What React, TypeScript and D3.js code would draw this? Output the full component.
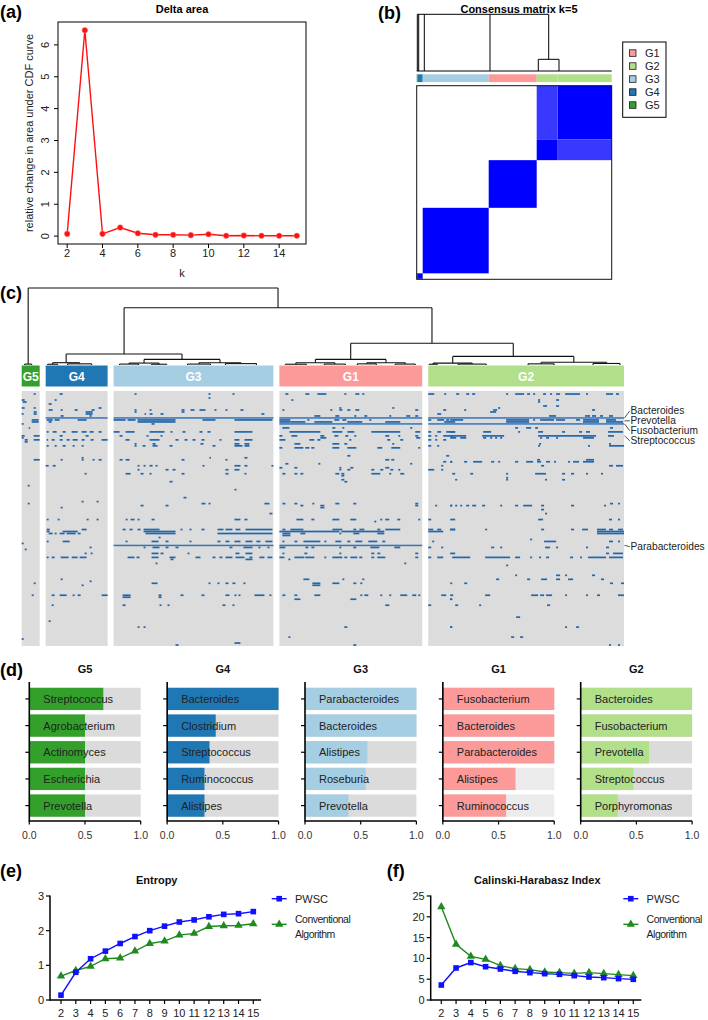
import React from "react";
import * as d3 from "d3";

const FONT = "Liberation Sans, Arial, Helvetica, sans-serif";

// ---------- (a) Delta area ----------
const deltaK = [2, 3, 4, 5, 6, 7, 8, 9, 10, 11, 12, 13, 14, 15];
const deltaArea = [0.07, 6.46, 0.07, 0.27, 0.09, 0.04, 0.04, 0.03, 0.06, 0.01, 0.02, 0.01, 0.01, 0.01];

// ---------- shared groups ----------
const groupNames = ["G1", "G2", "G3", "G4", "G5"];
const groupColors: Record<string, string> = {
  G1: "#fb9a99",
  G2: "#b2df8a",
  G3: "#a6cee3",
  G4: "#1f78b4",
  G5: "#33a02c",
};

// ---------- (b) consensus matrix ----------
const consClusters = ["G5", "G4", "G3", "G1", "G2a", "G2b"];
const consSizes = [1, 5, 66, 48, 21, 54];
const consGroupOf = ["G5", "G4", "G3", "G1", "G2", "G2"];
const consPairs: [string, string, number][] = [
  ["G5", "G5", 1],
  ["G4", "G4", 1],
  ["G5", "G4", 1],
  ["G3", "G3", 1],
  ["G1", "G1", 1],
  ["G2a", "G2a", 1],
  ["G2b", "G2b", 1],
  ["G2a", "G2b", 0.78],
];
const bTopBranches = [0.6, 2, 7.6, 73.3, 132];
const bTopBranchLow = [0, 0, 0, 0, 0.206];
const bSubBranches = [121.6, 142.3];

// ---------- (c) heatmap ----------
const cGroups = ["G5", "G4", "G3", "G1", "G2"];
const cGroupSizes = [18, 62, 160, 143, 196];
const cRows = 128;

type Leaf = { g: string; c: number };
type TNode = { h: number; ch: (TNode | Leaf)[] };
const L = (g: string, c: number): Leaf => ({ g, c });
const N = (h: number, ...ch: (TNode | Leaf)[]): TNode => ({ h, ch });

const cTree: TNode = N(
  1.0,
  N(0.012, L("G5", 3), L("G5", 10)),
  N(
    0.744,
    N(
      0.143,
      N(0.03, N(0.01, L("G4", 2), L("G4", 12)), N(0.015, L("G4", 22), L("G4", 46))),
      N(
        0.073,
        N(0.025, N(0.012, L("G3", 6), L("G3", 25)), N(0.01, L("G3", 38), L("G3", 53))),
        N(0.03, N(0.012, L("G3", 74), L("G3", 97)), N(0.018, L("G3", 112), L("G3", 143)))
      )
    ),
    N(
      0.282,
      N(
        0.073,
        N(0.03, N(0.01, L("G1", 6), L("G1", 27)), N(0.012, L("G1", 45), L("G1", 66))),
        N(0.03, N(0.015, L("G1", 78), L("G1", 97)), N(0.012, L("G1", 116), L("G1", 136)))
      ),
      N(
        0.112,
        N(0.025, N(0.01, L("G2", 1), L("G2", 9)), N(0.012, L("G2", 30), L("G2", 58))),
        N(0.035, N(0.015, L("G2", 100), L("G2", 126)), N(0.02, L("G2", 165), L("G2", 192)))
      )
    )
  )
);

const fullLineRows: Record<string, number[]> = {
  G5: [],
  G4: [13],
  G3: [13, 77],
  G1: [13, 16, 77],
  G2: [13, 16],
};

type Dash = [number, number, number];
const g5Dashes: Dash[] = [
  [1, 12, 14], [4, 0, 3], [5, 1, 5], [8, 0, 3], [8, 12, 14], [10, 12, 15], [11, 0, 2], [11, 12, 15],
  [14, 10, 17], [15, 10, 17], [16, 0, 2], [18, 7, 8], [22, 0, 3], [22, 12, 18], [23, 0, 2], [24, 3, 6],
  [25, 3, 6], [24, 12, 18], [34, 12, 18], [47, 6, 8], [56, 6, 8], [76, 0, 2], [79, 3, 5], [96, 12, 14],
  [102, 10, 12], [124, 0, 2],
];
const g4Dashes: Dash[] = [
  [1, 14, 17], [4, 9, 11], [6, 3, 6], [9, 3, 7], [9, 15, 17], [9, 29, 32], [9, 46, 49], [8, 53, 56],
  [10, 40, 47], [11, 40, 47], [12, 15, 18], [12, 44, 46], [14, 1, 7], [14, 9, 14], [14, 32, 41], [15, 3, 6],
  [20, 1, 3], [20, 7, 11], [20, 17, 20], [20, 26, 32], [20, 36, 41], [20, 44, 48], [20, 53, 56], [22, 14, 17],
  [22, 40, 43], [24, 1, 2], [24, 6, 9], [24, 14, 17], [24, 21, 24], [24, 27, 32], [24, 36, 39], [24, 45, 48],
  [24, 56, 62], [27, 1, 3], [27, 9, 11], [27, 17, 20], [27, 27, 29], [27, 36, 38], [33, 36, 38], [34, 15, 17],
  [34, 36, 38], [34, 47, 49], [34, 53, 56], [37, 0, 3], [37, 7, 10], [41, 39, 41], [55, 36, 38], [55, 51, 53],
  [58, 15, 17], [64, 1, 3], [64, 12, 14], [64, 41, 43], [64, 51, 53], [69, 1, 4], [70, 1, 4], [70, 17, 32],
  [69, 36, 41], [71, 3, 7], [71, 9, 11], [71, 14, 19], [71, 21, 30], [71, 32, 35], [75, 1, 3], [75, 17, 24],
  [78, 44, 46], [81, 39, 41], [81, 45, 47], [83, 1, 3], [83, 6, 9], [83, 15, 23], [83, 26, 32], [83, 34, 41],
  [94, 15, 17], [95, 44, 46], [97, 36, 38], [102, 6, 9], [102, 14, 21], [102, 27, 29], [102, 32, 35],
  [102, 56, 62], [107, 6, 8], [115, 3, 5],
];
const g3Dashes: Dash[] = [
  [1, 21, 23], [1, 95, 97], [1, 119, 121], [3, 95, 97], [9, 21, 23], [10, 21, 23], [9, 36, 38], [9, 68, 71],
  [10, 68, 71], [9, 77, 81], [9, 86, 92], [9, 101, 103], [9, 112, 114], [9, 127, 130], [11, 31, 32], [11, 36, 39],
  [11, 47, 50], [11, 148, 151], [14, 0, 12], [14, 14, 22], [14, 24, 62], [15, 24, 62], [14, 89, 102],
  [14, 121, 159], [16, 38, 41], [20, 0, 6], [20, 12, 21], [20, 36, 51], [20, 57, 59], [20, 69, 72], [20, 86, 89],
  [20, 94, 97], [20, 121, 139], [22, 6, 9], [22, 33, 35], [22, 47, 49], [24, 12, 16], [24, 36, 46], [24, 62, 65],
  [24, 71, 74], [24, 79, 82], [24, 88, 91], [24, 106, 108], [24, 121, 126], [24, 131, 139], [26, 21, 23],
  [26, 39, 42], [26, 87, 90], [26, 121, 126], [26, 131, 136], [27, 21, 23], [27, 29, 32], [27, 39, 44],
  [27, 56, 59], [27, 99, 102], [27, 121, 129], [27, 131, 136], [33, 96, 97], [33, 131, 134], [34, 6, 9],
  [34, 12, 16], [34, 68, 71], [34, 112, 114], [37, 24, 26], [37, 30, 32], [37, 36, 39], [37, 42, 44],
  [37, 89, 91], [37, 121, 127], [37, 131, 134], [37, 158, 160], [39, 24, 26], [39, 52, 55], [39, 59, 62],
  [39, 112, 115], [39, 121, 126], [41, 12, 17], [41, 27, 30], [41, 36, 38], [41, 68, 71], [41, 112, 115],
  [41, 131, 133], [45, 56, 59], [49, 121, 123], [53, 70, 73], [56, 88, 92], [56, 95, 97], [56, 151, 156],
  [57, 27, 30], [57, 52, 55], [61, 156, 159], [64, 12, 14], [64, 17, 21], [64, 24, 26], [64, 38, 41],
  [64, 121, 127], [64, 131, 134], [69, 9, 12], [69, 16, 19], [69, 24, 27], [69, 30, 46], [70, 30, 62],
  [69, 67, 69], [69, 76, 78], [69, 88, 91], [69, 104, 110], [69, 112, 119], [69, 122, 127], [69, 132, 159],
  [71, 32, 62], [71, 104, 159], [73, 45, 47], [75, 12, 14], [75, 38, 45], [75, 52, 55], [75, 76, 78],
  [75, 104, 107], [75, 112, 116], [75, 121, 127], [75, 132, 139], [75, 143, 147], [75, 152, 159], [78, 30, 32],
  [78, 39, 46], [78, 52, 55], [78, 62, 65], [78, 116, 119], [78, 130, 139], [78, 145, 147], [78, 154, 156],
  [81, 38, 45], [81, 47, 50], [81, 74, 76], [81, 122, 126], [81, 132, 139], [83, 14, 21], [83, 23, 26],
  [83, 38, 45], [83, 56, 62], [83, 82, 87], [83, 99, 102], [83, 106, 109], [83, 112, 119], [83, 122, 131],
  [83, 136, 139], [83, 146, 151], [83, 154, 159], [84, 57, 60], [84, 132, 139], [86, 42, 44], [96, 38, 44],
  [96, 95, 97], [96, 104, 106], [96, 112, 115], [96, 119, 122], [96, 130, 132], [102, 9, 17], [103, 9, 17],
  [102, 45, 48], [103, 45, 48], [102, 67, 70], [102, 88, 91], [102, 112, 116], [102, 121, 123], [102, 125, 127],
  [102, 141, 151], [102, 156, 158], [107, 9, 12], [107, 46, 48], [107, 54, 56], [107, 109, 112],
  [107, 119, 121], [118, 24, 26], [118, 30, 32], [126, 121, 127], [127, 62, 65],
];
const g1Dashes: Dash[] = [
  [1, 6, 9], [1, 26, 30], [1, 38, 47], [1, 65, 67], [1, 76, 80], [1, 83, 85], [4, 12, 14], [9, 3, 5],
  [9, 51, 53], [9, 60, 63], [9, 68, 71], [9, 76, 80], [8, 113, 115], [9, 136, 139], [8, 60, 62], [12, 35, 41],
  [12, 56, 60], [12, 75, 77], [12, 85, 88], [12, 110, 112], [12, 127, 131], [12, 136, 139], [14, 0, 11],
  [15, 0, 11], [15, 11, 26], [14, 28, 30], [15, 35, 53], [14, 55, 60], [14, 63, 67], [15, 68, 83], [14, 90, 92],
  [15, 106, 121], [18, 3, 10], [18, 53, 56], [18, 63, 65], [18, 131, 133], [20, 10, 41], [20, 53, 63],
  [20, 68, 75], [20, 92, 121], [20, 136, 141], [22, 0, 3], [22, 12, 18], [22, 41, 45], [22, 55, 59],
  [22, 66, 69], [22, 75, 77], [22, 106, 110], [22, 119, 121], [22, 136, 139], [23, 41, 47], [23, 137, 141],
  [24, 0, 6], [24, 30, 35], [24, 38, 41], [24, 70, 72], [24, 108, 111], [24, 121, 124], [26, 15, 21],
  [26, 53, 60], [26, 65, 68], [26, 113, 115], [28, 0, 3], [28, 15, 24], [28, 26, 30], [28, 32, 35],
  [28, 53, 60], [28, 68, 77], [28, 98, 103], [28, 112, 121], [28, 139, 141], [32, 68, 71], [34, 106, 110],
  [34, 112, 115], [36, 6, 9], [36, 39, 41], [36, 131, 133], [38, 0, 3], [38, 15, 18], [38, 60, 62],
  [38, 71, 74], [38, 106, 110], [39, 60, 62], [39, 68, 71], [39, 92, 95], [39, 101, 104], [39, 111, 114],
  [39, 119, 121], [41, 3, 6], [41, 15, 18], [41, 21, 24], [41, 56, 60], [41, 62, 65], [41, 92, 101],
  [41, 110, 112], [41, 121, 125], [42, 62, 65], [44, 62, 65], [45, 65, 68], [56, 3, 6], [56, 15, 18],
  [56, 33, 35], [56, 56, 60], [56, 74, 77], [56, 136, 139], [57, 21, 24], [57, 41, 45], [57, 136, 139],
  [58, 41, 45], [64, 17, 24], [64, 32, 35], [64, 53, 60], [64, 71, 77], [64, 101, 103], [64, 106, 110],
  [64, 118, 121], [64, 139, 141], [65, 95, 97], [69, 3, 6], [69, 11, 24], [69, 53, 63], [69, 74, 77],
  [69, 80, 85], [69, 98, 101], [69, 106, 121], [70, 0, 60], [70, 62, 105], [71, 3, 11], [72, 3, 11],
  [71, 21, 26], [71, 60, 62], [71, 74, 80], [71, 98, 105], [75, 3, 5], [75, 15, 18], [75, 24, 41], [75, 45, 47],
  [75, 56, 62], [75, 68, 71], [75, 76, 83], [75, 89, 98], [75, 103, 106], [78, 0, 6], [78, 26, 29], [78, 32, 35],
  [78, 60, 62], [78, 74, 77], [78, 91, 100], [78, 115, 121], [81, 3, 5], [81, 25, 28], [81, 60, 62],
  [81, 92, 95], [81, 98, 101], [81, 136, 139], [83, 0, 5], [83, 15, 25], [83, 26, 35], [83, 45, 47],
  [83, 53, 63], [83, 65, 68], [83, 71, 78], [83, 80, 83], [83, 92, 95], [83, 98, 106], [83, 136, 139],
  [84, 9, 11], [86, 125, 127], [94, 24, 30], [94, 63, 65], [94, 83, 85], [96, 33, 41], [97, 33, 41],
  [96, 53, 60], [96, 74, 77], [96, 81, 83], [102, 3, 6], [102, 15, 18], [102, 35, 41], [102, 81, 83],
  [102, 85, 89], [102, 101, 103], [102, 110, 112], [102, 121, 128], [102, 133, 137], [102, 139, 141],
  [104, 15, 21], [104, 71, 77], [107, 106, 110], [118, 65, 68], [123, 9, 11], [127, 74, 77],
];
const g2Dashes: Dash[] = [
  [1, 0, 6], [1, 16, 18], [9, 15, 18], [11, 9, 13], [14, 0, 3], [14, 9, 16], [14, 18, 21], [15, 16, 27],
  [20, 0, 3], [20, 9, 13], [20, 18, 27], [22, 0, 3], [22, 7, 9], [22, 15, 25], [24, 0, 3], [24, 7, 9],
  [24, 15, 18], [27, 0, 3], [27, 9, 11], [32, 18, 21], [35, 15, 18], [35, 22, 24], [37, 13, 15], [39, 0, 6],
  [39, 13, 15], [57, 7, 9], [57, 22, 24], [64, 0, 3], [64, 22, 27], [69, 0, 5], [69, 9, 13], [69, 22, 27],
  [70, 0, 15], [75, 4, 6], [78, 0, 3], [78, 13, 15], [83, 0, 3], [83, 9, 15], [102, 13, 18], [102, 22, 25],
  [104, 22, 24], [107, 0, 3], [118, 22, 24],
  [1, 28, 31], [1, 38, 41], [1, 44, 47], [1, 78, 80], [1, 87, 96], [1, 99, 102], [1, 105, 107], [1, 115, 118],
  [1, 122, 124], [1, 128, 132], [1, 137, 152], [1, 158, 160], [1, 178, 185], [1, 188, 191], [4, 110, 112],
  [4, 128, 131], [5, 110, 112], [7, 115, 119], [7, 128, 131], [8, 70, 72], [9, 36, 38], [9, 65, 69],
  [9, 164, 167], [10, 62, 68], [12, 121, 128], [12, 157, 162], [12, 164, 168], [12, 172, 175], [12, 181, 185],
  [14, 22, 35], [14, 78, 101], [15, 78, 101], [14, 105, 107], [14, 112, 126], [14, 128, 137], [14, 148, 152],
  [14, 155, 171], [15, 155, 171], [14, 178, 188], [15, 178, 195], [18, 87, 90], [18, 98, 103], [18, 107, 110],
  [18, 182, 185], [20, 22, 27], [20, 55, 63], [20, 90, 92], [20, 110, 115], [20, 134, 137], [20, 151, 154],
  [20, 158, 162], [20, 180, 195], [22, 22, 38], [22, 54, 76], [22, 110, 168], [22, 180, 186], [23, 22, 28],
  [23, 32, 38], [23, 55, 58], [23, 62, 64], [23, 67, 69], [23, 72, 74], [23, 112, 114], [23, 118, 121],
  [23, 128, 130], [23, 155, 166], [26, 111, 113], [26, 181, 183], [27, 110, 112], [27, 160, 162],
  [27, 181, 196], [34, 109, 112], [34, 158, 166], [35, 22, 24], [35, 36, 39], [35, 45, 54], [35, 63, 66],
  [35, 70, 72], [35, 87, 90], [35, 98, 105], [35, 109, 113], [35, 118, 122], [35, 126, 128], [35, 140, 142],
  [35, 145, 151], [35, 155, 166], [37, 113, 116], [37, 181, 185], [37, 188, 195], [41, 24, 27], [41, 42, 45],
  [41, 78, 80], [41, 107, 118], [41, 134, 137], [41, 143, 146], [41, 158, 160], [41, 173, 175], [43, 78, 80],
  [44, 27, 29], [44, 78, 80], [44, 117, 119], [44, 134, 137], [56, 182, 185], [56, 190, 192], [57, 22, 24],
  [57, 27, 29], [57, 32, 34], [57, 38, 41], [57, 44, 48], [57, 54, 57], [57, 72, 74], [57, 87, 90],
  [57, 95, 104], [57, 113, 116], [57, 143, 146], [57, 176, 178], [59, 113, 116], [61, 117, 119],
  [64, 110, 115], [64, 181, 184], [64, 190, 192], [69, 22, 27], [69, 57, 59], [69, 113, 116], [69, 143, 146],
  [69, 154, 160], [69, 169, 178], [69, 181, 185], [69, 190, 195], [70, 169, 196], [71, 169, 196],
  [74, 102, 104], [75, 116, 128], [75, 181, 185], [75, 190, 192], [78, 63, 66], [78, 72, 74], [78, 117, 122],
  [78, 128, 130], [78, 158, 160], [78, 178, 181], [81, 22, 27], [81, 178, 181], [81, 185, 195], [83, 24, 42],
  [83, 57, 82], [83, 87, 92], [83, 102, 104], [83, 111, 113], [83, 118, 121], [83, 142, 145], [83, 152, 154],
  [83, 160, 178], [83, 181, 195], [87, 78, 80], [92, 87, 89], [92, 128, 132], [92, 137, 139], [92, 164, 167],
  [94, 68, 71], [94, 99, 102], [94, 113, 119], [94, 128, 132], [94, 140, 145], [94, 173, 176], [96, 22, 24],
  [96, 36, 39], [96, 182, 185], [96, 193, 196], [102, 57, 62], [102, 103, 110], [102, 112, 116],
  [102, 118, 124], [102, 137, 139], [102, 158, 160], [102, 169, 172], [102, 190, 196], [104, 22, 24],
  [107, 27, 30], [107, 51, 53], [107, 119, 122], [113, 88, 92], [118, 22, 24], [118, 137, 139],
  [118, 148, 151], [123, 83, 86], [123, 92, 95], [127, 181, 183], [127, 190, 192],
];
const cDashes: Record<string, Dash[]> = { G5: g5Dashes, G4: g4Dashes, G3: g3Dashes, G1: g1Dashes, G2: g2Dashes };

const heatLabels = ["Bacteroides", "Prevotella", "Fusobacterium", "Streptococcus", "Parabacteroides"];
const heatLabelRows = [13, 14.5, 16, 22, 77];

// ---------- (d) top genera ----------
const dGroups = ["G5", "G4", "G3", "G1", "G2"];
const g5Genera = ["Streptococcus", "Agrobacterium", "Actinomyces", "Escherichia", "Prevotella"];
const g5Values = [0.664, 0.5, 0.5, 0.5, 0.5];
const g4Genera = ["Bacteroides", "Clostridium", "Streptococcus", "Ruminococcus", "Alistipes"];
const g4Values = [1.0, 0.436, 0.38, 0.335, 0.335];
const g3Genera = ["Parabacteroides", "Bacteroides", "Alistipes", "Roseburia", "Prevotella"];
const g3Values = [1.0, 1.0, 0.56, 0.545, 0.39];
const g1Genera = ["Fusobacterium", "Bacteroides", "Parabacteroides", "Alistipes", "Ruminococcus"];
const g1Values = [1.0, 1.0, 1.0, 0.652, 0.568];
const g2Genera = ["Bacteroides", "Fusobacterium", "Prevotella", "Streptococcus", "Porphyromonas"];
const g2Values = [1.0, 1.0, 0.613, 0.472, 0.335];
const g1LightBackground = ["Alistipes", "Ruminococcus"];
const dGenera: Record<string, string[]> = { G5: g5Genera, G4: g4Genera, G3: g3Genera, G1: g1Genera, G2: g2Genera };
const dValues: Record<string, number[]> = { G5: g5Values, G4: g4Values, G3: g3Values, G1: g1Values, G2: g2Values };
const dTicks = [0, 0.5, 1.0];

// ---------- (e), (f) ----------
const kValues = [2, 3, 4, 5, 6, 7, 8, 9, 10, 11, 12, 13, 14, 15];
const entropyPWSC = [0.14, 0.8, 1.19, 1.41, 1.63, 1.83, 2.0, 2.13, 2.25, 2.31, 2.4, 2.47, 2.49, 2.55];
const entropyConv = [0.69, 0.85, 0.97, 1.19, 1.21, 1.41, 1.63, 1.7, 1.87, 1.92, 2.12, 2.14, 2.15, 2.2];
const chPWSC = [3.6, 7.7, 9.0, 8.0, 7.45, 6.9, 6.57, 6.33, 6.17, 5.85, 5.53, 5.37, 5.13, 4.97];
const chConv = [22.4, 13.4, 10.5, 9.78, 8.25, 7.53, 7.29, 6.73, 6.57, 6.41, 6.57, 6.33, 6.09, 5.85];
const seriesNames = ["PWSC", "Conventional Algorithm"];
const entropyTicks = [0, 1, 2, 3];
const chTicks = [0, 5, 10, 15, 20, 25];

const BLUE = "#1010ff";
const GREEN = "#1f8a1f";

function PanelLabel({ x, y, t }: { x: number; y: number; t: string }) {
  return (
    <text x={x} y={y} fontSize={18} fontWeight="bold" fill="#000">
      {t}
    </text>
  );
}

function PanelA() {
  const [k0, k1] = d3.extent(deltaK) as [number, number];
  const [v0, v1] = d3.extent(deltaArea) as [number, number];
  const px = (k1 - k0) * 0.04;
  const py = (v1 - v0) * 0.04;
  const x = d3.scaleLinear().domain([k0 - px, k1 + px]).range([58, 306]);
  const y = d3.scaleLinear().domain([v0 - py, v1 + py]).range([244, 22]);
  const line = d3
    .line<number>()
    .x((_, i) => x(deltaK[i]))
    .y((d) => y(d));
  const xt = [2, 4, 6, 8, 10, 12, 14];
  const yt = [0, 1, 2, 3, 4, 5, 6];
  return (
    <g>
      <PanelLabel x={0} y={18} t="(a)" />
      <text x={182} y={13} fontSize={11} fontWeight="bold" textAnchor="middle">
        Delta area
      </text>
      <rect x={58} y={22} width={248} height={222} fill="none" stroke="#000" strokeWidth={1} />
      {xt.map((t) => (
        <g key={t}>
          <line x1={x(t)} x2={x(t)} y1={244} y2={248} stroke="#000" />
          <text x={x(t)} y={257} fontSize={11} textAnchor="middle" fill="#222">
            {t}
          </text>
        </g>
      ))}
      {yt.map((t) => (
        <g key={t}>
          <line x1={58} x2={54} y1={y(t)} y2={y(t)} stroke="#000" />
          <text transform={`translate(49,${y(t)}) rotate(-90)`} fontSize={11} textAnchor="middle" fill="#222">
            {t}
          </text>
        </g>
      ))}
      <text x={182} y={277} fontSize={11} textAnchor="middle" fill="#222">
        k
      </text>
      <text transform="translate(33,133) rotate(-90)" fontSize={11} textAnchor="middle" fill="#222">
        relative change in area under CDF curve
      </text>
      <path d={line(deltaArea) || ""} fill="none" stroke="#ff1010" strokeWidth={1.4} />
      {deltaArea.map((v, i) => (
        <circle key={i} cx={x(deltaK[i])} cy={y(v)} r={2.8} fill="#ff1010" stroke="#ff8080" strokeWidth={0.5} />
      ))}
    </g>
  );
}

function PanelB() {
  const total = d3.sum(consSizes);
  const starts: number[] = [];
  let acc = 0;
  consSizes.forEach((s) => {
    starts.push(acc);
    acc += s;
  });
  const x = d3.scaleLinear().domain([0, total]).range([416.7, 611.7]);
  const y = d3.scaleLinear().domain([0, total]).range([279.3, 85.7]);
  const hy = d3.scaleLinear().domain([0, 1]).range([71, 14.3]);
  const col = (v: number) => d3.interpolateRgb("#ffffff", "#0000ff")(v);
  const idx = (n: string) => consClusters.indexOf(n);
  const blocks: { a: number; b: number; v: number }[] = [];
  consPairs.forEach(([a, b, v]) => {
    blocks.push({ a: idx(a), b: idx(b), v });
    if (a !== b) blocks.push({ a: idx(b), b: idx(a), v });
  });
  return (
    <g>
      <PanelLabel x={378} y={19} t="(b)" />
      <text x={519} y={13} fontSize={11} fontWeight="bold" textAnchor="middle">
        Consensus matrix k=5
      </text>
      <line x1={x(bTopBranches[0])} x2={x(bTopBranches[bTopBranches.length - 1])} y1={hy(1)} y2={hy(1)} stroke="#000" strokeWidth={1} />
      {bTopBranches.map((p, i) => (
        <line key={i} x1={x(p)} x2={x(p)} y1={hy(1)} y2={hy(bTopBranchLow[i])} stroke="#000" strokeWidth={1} />
      ))}
      <line x1={x(bSubBranches[0])} x2={x(bSubBranches[1])} y1={hy(0.206)} y2={hy(0.206)} stroke="#000" strokeWidth={1} />
      {bSubBranches.map((p, i) => (
        <line key={i} x1={x(p)} x2={x(p)} y1={hy(0.206)} y2={hy(0)} stroke="#000" strokeWidth={1} />
      ))}
      <line x1={x(0)} x2={x(total)} y1={hy(0)} y2={hy(0)} stroke="#000" strokeWidth={1} />
      {consSizes.map((s, i) => (
        <rect key={i} x={x(starts[i])} y={74.3} width={x(starts[i] + s) - x(starts[i])} height={7.8} fill={groupColors[consGroupOf[i]]} />
      ))}
      {blocks.map((bk, i) => (
        <rect
          key={i}
          x={x(starts[bk.a])}
          y={y(starts[bk.b] + consSizes[bk.b])}
          width={x(starts[bk.a] + consSizes[bk.a]) - x(starts[bk.a])}
          height={y(starts[bk.b]) - y(starts[bk.b] + consSizes[bk.b])}
          fill={col(bk.v)}
        />
      ))}
      <rect x={416.7} y={85.7} width={195} height={193.6} fill="none" stroke="#111" strokeWidth={1} />
      <rect x={622.7} y={42} width={43.3} height={75.3} fill="#fff" stroke="#000" strokeWidth={1} />
      {groupNames.map((g, i) => (
        <g key={g}>
          <rect x={629.5} y={50 + i * 13 - 0.2} width={6.5} height={6.5} fill={groupColors[g]} stroke="#000" strokeWidth={0.7} />
          <text x={645} y={57.3 + i * 13} fontSize={11} fill="#222">
            {g}
          </text>
        </g>
      ))}
    </g>
  );
}

function PanelC() {
  const gap = 6;
  const offsets: number[] = [];
  let acc = 0;
  cGroupSizes.forEach((s) => {
    offsets.push(acc);
    acc += s + gap;
  });
  const total = acc - gap;
  const x = d3.scaleLinear().domain([0, total]).range([21.7, 624]);
  const yb = d3.scaleBand<number>().domain(d3.range(cRows)).range([391, 646]);
  const rh = yb.bandwidth();
  const hy = d3.scaleLinear().domain([0, 1]).range([365, 288]);
  const gi = (g: string) => cGroups.indexOf(g);
  const gx = (g: string, c: number) => x(offsets[gi(g)] + c);

  const segs: { x1: number; x2: number; y1: number; y2: number }[] = [];
  const walk = (n: TNode | Leaf): { x: number; h: number } => {
    if ("g" in n) return { x: gx(n.g, n.c), h: 0 };
    const kids = n.ch.map(walk);
    const xs = kids.map((k) => k.x);
    segs.push({ x1: d3.min(xs)!, x2: d3.max(xs)!, y1: hy(n.h), y2: hy(n.h) });
    kids.forEach((k) => segs.push({ x1: k.x, x2: k.x, y1: hy(n.h), y2: hy(k.h) }));
    return { x: d3.mean(xs)!, h: n.h };
  };
  walk(cTree);

  const rowY = heatLabelRows.map((r) => 391 + r * rh + rh / 2);
  const sp = 10;
  let blocks: number[][] = rowY.map((_, i) => [i]);
  const place = (b: number[]) => {
    const c = d3.mean(b.map((i) => rowY[i]))!;
    return b.map((_, k) => c + (k - (b.length - 1) / 2) * sp);
  };
  let changed = true;
  while (changed) {
    changed = false;
    for (let i = 0; i < blocks.length - 1; i++) {
      const a = place(blocks[i]);
      const b = place(blocks[i + 1]);
      if (a[a.length - 1] + sp > b[0]) {
        blocks = [...blocks.slice(0, i), [...blocks[i], ...blocks[i + 1]], ...blocks.slice(i + 2)];
        changed = true;
        break;
      }
    }
  }
  const labelY: number[] = [];
  blocks.forEach((b) => place(b).forEach((v, k) => (labelY[b[k]] = v + 1.2)));

  return (
    <g>
      <PanelLabel x={0} y={299} t="(c)" />
      {segs.map((s, i) => (
        <line key={i} x1={s.x1} x2={s.x2} y1={s.y1} y2={s.y2} stroke="#111" strokeWidth={1.1} />
      ))}
      {cGroups.map((g, i) => {
        const x0 = x(offsets[i]);
        const x1 = x(offsets[i] + cGroupSizes[i]);
        return (
          <g key={g}>
            <rect x={x0} y={365.5} width={x1 - x0} height={21} fill={groupColors[g]} />
            <text x={(x0 + x1) / 2} y={380.5} fontSize={12} fontWeight="bold" fill="#fff" textAnchor="middle">
              {g}
            </text>
            <rect x={x0} y={391} width={x1 - x0} height={255} fill="#dcdcdc" />
            {fullLineRows[g].map((r) => (
              <rect key={"f" + r} x={x0} y={(yb(r) as number) + 0.3} width={x1 - x0} height={1.5} fill="#3576bb" />
            ))}
            {cDashes[g].map((d, k) => (
              <rect
                key={k}
                x={gx(g, d[1])}
                y={(yb(d[0]) as number) + 0.2}
                width={Math.max(1.5, gx(g, d[2]) - gx(g, d[1]))}
                height={1.7}
                fill="#2166ae"
              />
            ))}
          </g>
        );
      })}
      {heatLabels.map((t, i) => (
        <g key={t}>
          <line x1={624.5} x2={629.8} y1={rowY[i]} y2={labelY[i]} stroke="#222" strokeWidth={0.8} />
          <text x={630.5} y={labelY[i] + 3.6} fontSize={10.2} fill="#222">
            {t}
          </text>
        </g>
      ))}
    </g>
  );
}

function PanelD() {
  return (
    <g>
      <PanelLabel x={0} y={676} t="(d)" />
      {dGroups.map((g, pi) => {
        const ax = 29.3 + pi * 137.85;
        const x = d3.scaleLinear().domain([0, 1]).range([ax, ax + 111.4]);
        const genera = dGenera[g];
        const vals = dValues[g];
        const y = d3.scaleBand<string>().domain(genera).range([685.5, 819]).paddingInner(0.164).paddingOuter(0.085);
        return (
          <g key={g}>
            <text x={x(0.5)} y={673} fontSize={11} fontWeight="bold" textAnchor="middle" fill="#111">
              {g}
            </text>
            {genera.map((gen, i) => {
              const light = g === "G1" && g1LightBackground.includes(gen);
              const by = y(gen) as number;
              return (
                <g key={gen}>
                  <rect x={x(0)} y={by} width={x(1) - x(0)} height={y.bandwidth()} fill={light ? "#ececec" : "#dbdbdb"} />
                  <rect x={x(0)} y={by} width={x(vals[i]) - x(0)} height={y.bandwidth()} fill={groupColors[g]} />
                  <line x1={ax - 4} x2={ax} y1={by + y.bandwidth() / 2} y2={by + y.bandwidth() / 2} stroke="#000" strokeWidth={1.2} />
                  <text x={ax + 14} y={by + y.bandwidth() / 2 + 4} fontSize={11} fill="#222">
                    {gen}
                  </text>
                </g>
              );
            })}
            <line x1={ax} x2={ax} y1={682} y2={821.8} stroke="#000" strokeWidth={1.6} />
            <line x1={ax} x2={x(1)} y1={821} y2={821} stroke="#000" strokeWidth={1.6} />
            {dTicks.map((t) => (
              <g key={t}>
                <line x1={x(t)} x2={x(t)} y1={821} y2={824.5} stroke="#000" strokeWidth={1.2} />
                <text x={x(t)} y={838.5} fontSize={10.5} textAnchor="middle" fill="#333">
                  {t.toFixed(1)}
                </text>
              </g>
            ))}
          </g>
        );
      })}
    </g>
  );
}

function LinePanel(props: {
  label: string;
  labelX: number;
  title: string;
  titleX: number;
  axisX: number;
  axisEnd: number;
  k2x: number;
  k15x: number;
  ticks: number[];
  a: number[];
  b: number[];
  legendX: number;
}) {
  const { label, labelX, title, titleX, axisX, axisEnd, k2x, k15x, ticks, a, b, legendX } = props;
  const x = d3.scaleLinear().domain([2, 15]).range([k2x, k15x]);
  const y = d3.scaleLinear().domain([ticks[0], ticks[ticks.length - 1]]).range([1000, 896]);
  const line = d3
    .line<number>()
    .x((_, i) => x(kValues[i]))
    .y((d) => y(d));
  const tri = d3.symbol().type(d3.symbolTriangle).size(30)() || "";
  const [w1, w2] = seriesNames[1].split(" ");
  return (
    <g>
      <PanelLabel x={labelX} y={877} t={label} />
      <text x={titleX} y={884} fontSize={11} fontWeight="bold" textAnchor="middle" fill="#111">
        {title}
      </text>
      <line x1={axisX} x2={axisX} y1={895.5} y2={1000.8} stroke="#000" strokeWidth={1.5} />
      <line x1={axisX} x2={axisEnd} y1={1000} y2={1000} stroke="#000" strokeWidth={1.5} />
      {ticks.map((t) => (
        <g key={t}>
          <line x1={axisX - 4} x2={axisX} y1={y(t)} y2={y(t)} stroke="#000" strokeWidth={1.2} />
          <text x={axisX - 6} y={y(t) + 4} fontSize={11} textAnchor="end" fill="#222">
            {t}
          </text>
        </g>
      ))}
      {kValues.map((k) => (
        <g key={k}>
          <line x1={x(k)} x2={x(k)} y1={1000} y2={1004} stroke="#000" strokeWidth={1.2} />
          <text x={x(k)} y={1017} fontSize={11} textAnchor="middle" fill="#222">
            {k}
          </text>
        </g>
      ))}
      <path d={line(b) || ""} fill="none" stroke={GREEN} strokeWidth={1.4} />
      {b.map((v, i) => (
        <path key={i} d={tri} transform={`translate(${x(kValues[i])},${y(v)})`} fill={GREEN} />
      ))}
      <path d={line(a) || ""} fill="none" stroke={BLUE} strokeWidth={1.4} />
      {a.map((v, i) => (
        <rect key={i} x={x(kValues[i]) - 2.8} y={y(v) - 2.8} width={5.6} height={5.6} fill={BLUE} />
      ))}
      <line x1={legendX} x2={legendX + 15} y1={898.7} y2={898.7} stroke={BLUE} strokeWidth={1.4} />
      <rect x={legendX + 7.5 - 2.8} y={898.7 - 2.8} width={5.6} height={5.6} fill={BLUE} />
      <text x={legendX + 23.3} y={902.7} fontSize={11} fill="#222">
        {seriesNames[0]}
      </text>
      <line x1={legendX} x2={legendX + 15} y1={924.3} y2={924.3} stroke={GREEN} strokeWidth={1.4} />
      <path d={tri} transform={`translate(${legendX + 7.5},${924.3})`} fill={GREEN} />
      <text x={legendX + 23.3} y={923} fontSize={10.5} fill="#222" letterSpacing={-0.5}>
        {w1}
      </text>
      <text x={legendX + 23.3} y={937.5} fontSize={10.5} fill="#222" letterSpacing={-0.5}>
        {w2}
      </text>
    </g>
  );
}

export default function App() {
  return (
    <svg
      width={708}
      height={1020}
      viewBox="0 0 708 1020"
      style={{ position: "absolute", left: 0, top: 0, display: "block", background: "#fff" }}
      fontFamily={FONT}
    >
      <rect x={0} y={0} width={708} height={1020} fill="#fff" />
      <PanelA />
      <PanelB />
      <PanelC />
      <PanelD />
      <LinePanel
        label="(e)"
        labelX={0}
        title="Entropy"
        titleX={156.7}
        axisX={50}
        axisEnd={261}
        k2x={61}
        k15x={253.3}
        ticks={entropyTicks}
        a={entropyPWSC}
        b={entropyConv}
        legendX={271.7}
      />
      <LinePanel
        label="(f)"
        labelX={386.7}
        title="Calinski-Harabasz Index"
        titleX={537.3}
        axisX={430.7}
        axisEnd={641.3}
        k2x={441.3}
        k15x={633.3}
        ticks={chTicks}
        a={chPWSC}
        b={chConv}
        legendX={623.3}
      />
    </svg>
  );
}
